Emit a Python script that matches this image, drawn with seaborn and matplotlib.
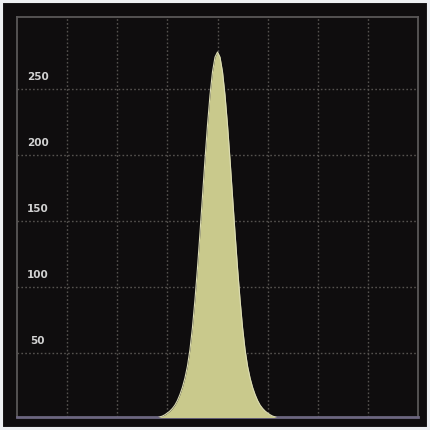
import matplotlib
matplotlib.use("Agg")
import matplotlib.pyplot as plt
import seaborn as sns
import pandas as pd
from matplotlib.patches import Rectangle

# ---- data ----
x_vals = [0.0, 2.6, 2.7, 2.8, 2.9, 2.95, 3.0, 3.05, 3.1, 3.15, 3.2, 3.25, 3.3, 3.35, 3.4, 3.45,
          3.5, 3.55, 3.6, 3.65, 3.7, 3.75, 3.8, 3.85, 3.9, 3.95, 4.0,
          4.05, 4.1, 4.15, 4.2, 4.25, 4.3, 4.35, 4.4, 4.45, 4.5, 4.55,
          4.6, 4.65, 4.7, 4.75, 4.8, 4.85, 4.9, 4.95, 5.0, 5.05, 5.1, 5.2, 5.3, 5.4, 8.0]
y_vals = [0.0, 0.0, 0.3, 0.9, 2.2, 3.2, 4.5, 6.0, 8.0, 10.5, 14.0, 18.5, 24.0, 31.0, 40.0, 52.5,
          69.3, 90.3, 114.3, 140.8, 168.6, 196.4, 222.6, 245.3, 263.0, 274.1, 278.0,
          274.1, 263.0, 245.3, 222.6, 196.4, 168.6, 140.8, 114.3, 90.3, 69.3, 52.5,
          40.0, 31.0, 24.0, 18.5, 14.0, 10.5, 8.0, 6.0, 4.5, 3.2, 2.2, 0.9, 0.3, 0.0, 0.0]
y_ticks = [50, 100, 150, 200, 250]
y_tick_labels = ["50", "100", "150", "200", "250"]
x_grid = [1, 2, 3, 4, 5, 6, 7]

df = pd.DataFrame({"x": x_vals, "y": y_vals})

sns.set_theme(style="dark")
plt.rcParams["font.family"] = ["DejaVu Sans"]

bg = "#0f0d0e"
fig = plt.figure(figsize=(4.3, 4.3), dpi=100)
fig.patch.set_facecolor(bg)
fig.patches.append(Rectangle((0, 0), 1, 1, transform=fig.transFigure,
                             fill=False, edgecolor="#eef0f2", linewidth=4.4,
                             zorder=10))

ax = fig.add_axes([17 / 430, 13 / 430, 401 / 430, 400 / 430])
ax.set_facecolor(bg)

ax.fill_between(df["x"], df["y"], color="#c9c98c", zorder=3, linewidth=0)
sns.lineplot(data=df, x="x", y="y", ax=ax, color="#dcdcb4", linewidth=0.8,
             zorder=4, estimator=None, sort=False)

ax.set_xlim(0, 8)
ax.set_ylim(1.5, 304.5)

for gx in x_grid:
    ax.axvline(gx, color="#55524f", linestyle=(0, (1.2, 1.6)), linewidth=1.0, zorder=1)
for gy in y_ticks:
    ax.axhline(gy, color="#55524f", linestyle=(0, (1.2, 1.6)), linewidth=1.0, zorder=1)

ax.set_xticks([])
ax.set_yticks([])
ax.set_xlabel("")
ax.set_ylabel("")

for v, lab in zip(y_ticks, y_tick_labels):
    ax.text(0.052, v + 5, lab, transform=ax.get_yaxis_transform(),
            ha="center", va="bottom", color="#d2d2d2", fontsize=7.5,
            fontweight="bold", zorder=5)

for side in ["left", "top", "right"]:
    ax.spines[side].set_visible(True)
    ax.spines[side].set_color("#5a5858")
    ax.spines[side].set_linewidth(1.3)
ax.spines["bottom"].set_visible(True)
ax.spines["bottom"].set_color("#6c6680")
ax.spines["bottom"].set_linewidth(2.0)

fig.savefig("out.png", dpi=100, facecolor=fig.get_facecolor())
